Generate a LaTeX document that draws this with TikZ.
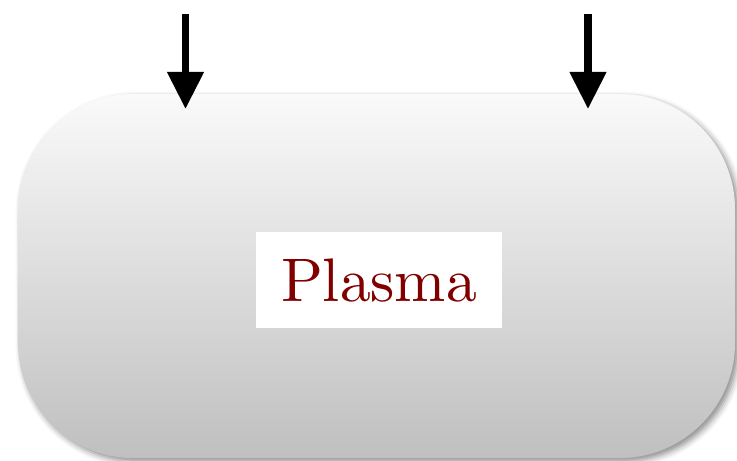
\documentclass[tikz,border=0pt]{standalone}
\usepackage{fontspec}
\usetikzlibrary{arrows.meta,shadows.blur}

% the 10pt design size, scaled up, for the label
\newfontfamily\tagfont{lmroman10-regular}[Extension=.otf]

\begin{document}
\begin{tikzpicture}[
  chamber/.style={rectangle, rounded corners=2.3cm, draw=none,
    top color=black!2, bottom color=black!25,
    minimum width=14.34cm, minimum height=7.28cm,
    blur shadow={shadow xshift=0.07cm, shadow yshift=-0.07cm,
      shadow blur radius=0.12cm, shadow opacity=45}},
  tag/.style={fill=white, text=red!50!black, inner sep=0pt,
    minimum width=4.92cm, minimum height=1.92cm,
    font=\tagfont\fontsize{35}{42}\selectfont},
  feed/.style={-{Triangle[length=7.4mm, width=7mm]}, line width=0.15cm}
]
\useasboundingbox (0,0) rectangle (14.74,9.2);

\node[chamber] (chamber) at (7.53,3.68) {};
\node[tag] (plasma) at (7.58,3.60) {Plasma};

% two inputs falling into the chamber
\coordinate (inL) at (3.71,8.92);
\coordinate (hitL) at (3.71,7.02);
\coordinate (inR) at (11.76,8.92);
\coordinate (hitR) at (11.76,7.02);
\draw[feed] (inL) -- (hitL);
\draw[feed] (inR) -- (hitR);

\end{tikzpicture}
\end{document}
